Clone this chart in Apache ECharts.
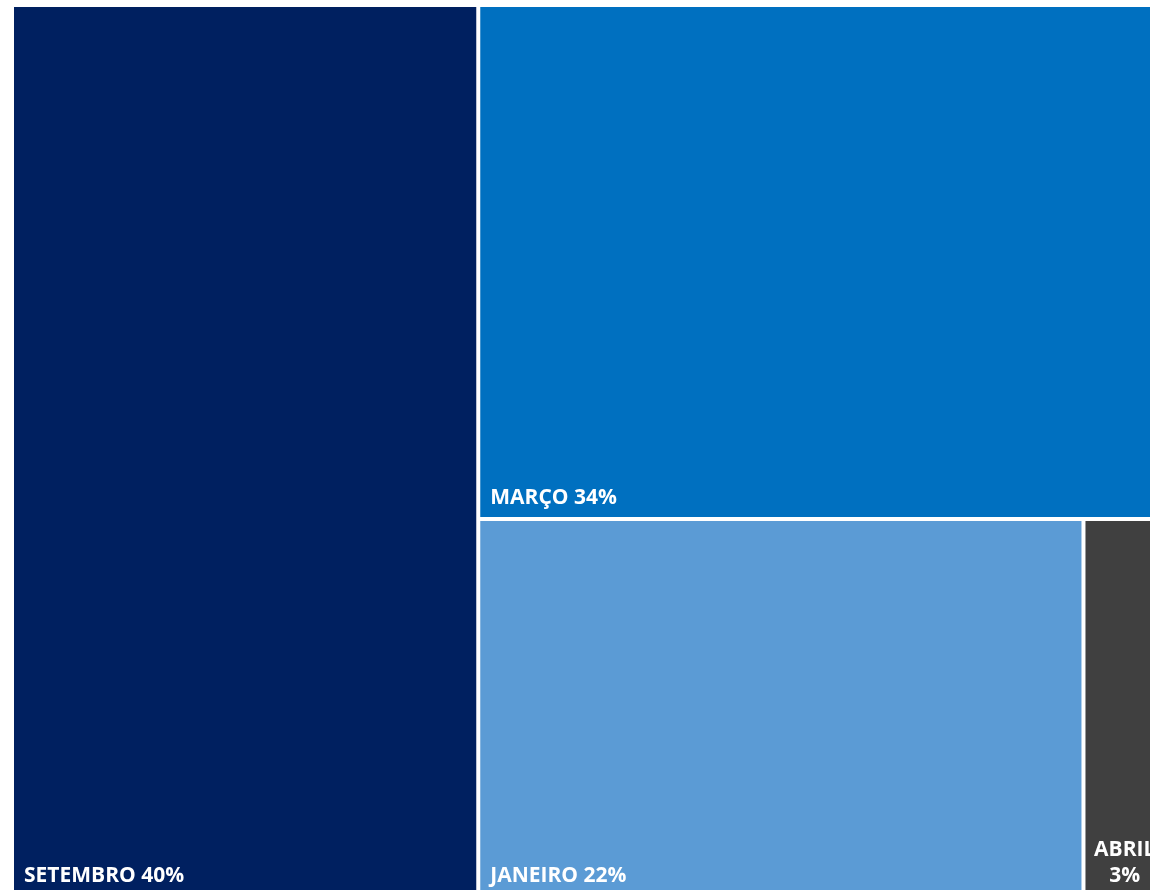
<!DOCTYPE html>
<html>
<head>
<meta charset="utf-8">
<script src="https://cdn.jsdelivr.net/npm/echarts@6/dist/echarts.min.js"></script>
<style>
  html, body { margin: 0; padding: 0; background: #fff; }
  #main { width: 1150px; height: 890px; }
</style>
</head>
<body>
<div id="main"></div>
<script>
// meses e participação (%)
var months = ['SETEMBRO', 'MARÇO', 'JANEIRO', 'ABRIL'];
var shares = [40, 34, 22, 3];
var colors = ['#002060', '#0070C0', '#5B9BD5', '#404040'];

var data = [];
for (var i = 0; i < months.length; i++) {
  var item = {
    name: months[i],
    value: shares[i],
    itemStyle: { color: colors[i] }
  };
  // caixa estreita: quebra a linha e centraliza
  if (shares[i] < 10) {
    item.label = { position: 'insideBottom', align: 'center', formatter: '{b}\n{c}%' };
  }
  data.push(item);
}

var myChart = echarts.init(document.getElementById('main'));
myChart.setOption({
  animation: false,
  series: [{
    type: 'treemap',
    left: 14,
    top: 7,
    width: 1150,
    height: 888,
    roam: false,
    nodeClick: false,
    squareRatio: 1,
    breadcrumb: { show: false },
    sort: 'desc',
    itemStyle: { borderWidth: 0, gapWidth: 4 },
    label: {
      show: true,
      position: 'insideBottomLeft',
      formatter: '{b} {c}%',
      color: '#fff',
      fontFamily: 'Open Sans',
      fontWeight: 'bold',
      fontSize: 21,
      lineHeight: 26,
      distance: 5,
      offset: [0, 4]
    },
    data: data
  }]
});
</script>
</body>
</html>
